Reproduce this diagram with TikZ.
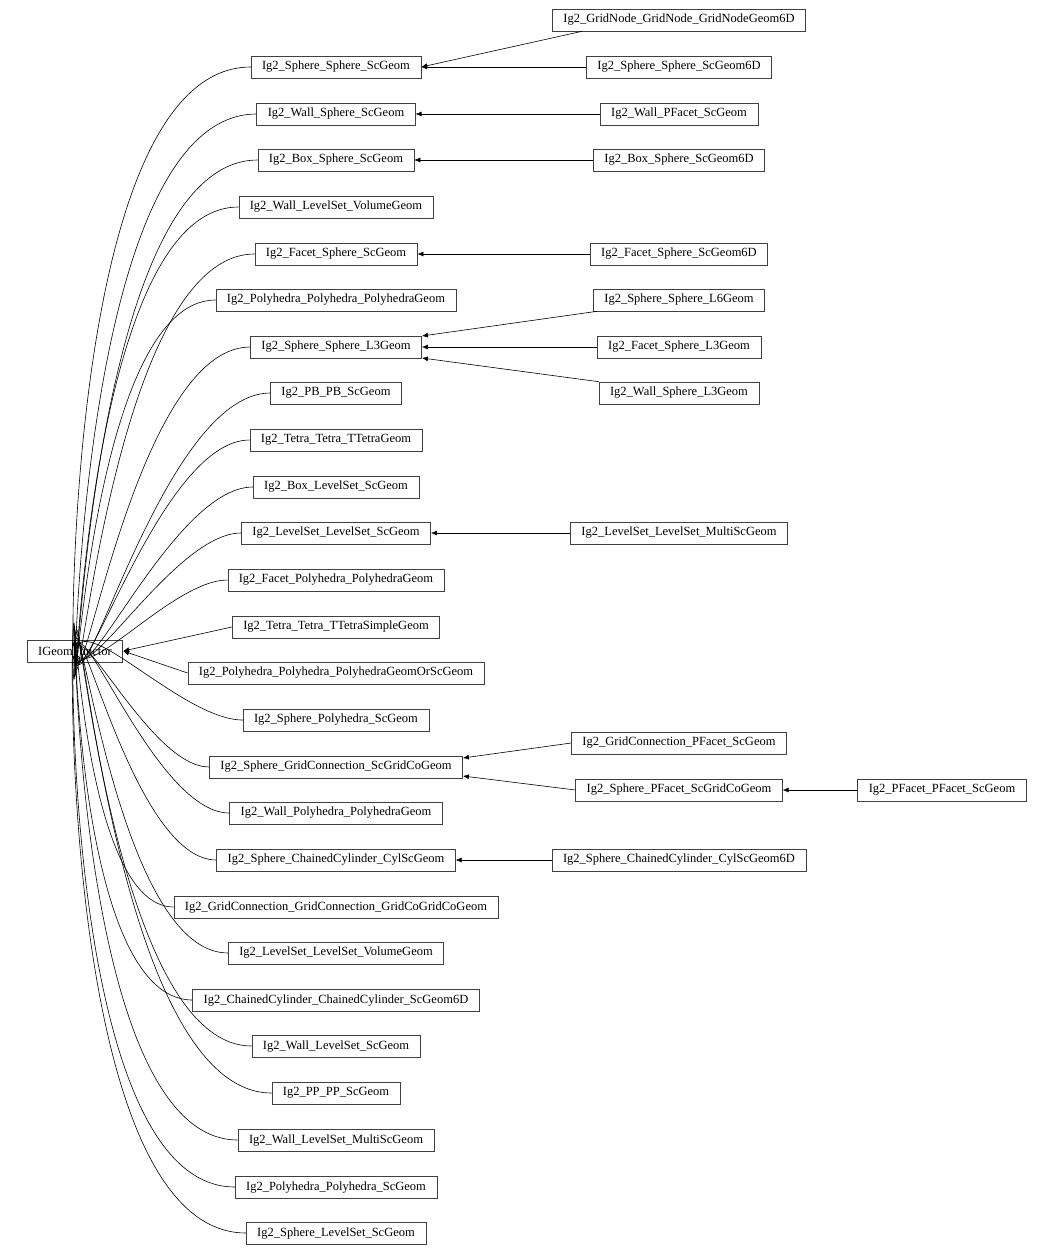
\documentclass[tikz,border=0pt]{standalone}
\usepackage{fontspec}
\setmainfont{Liberation Serif}
\usetikzlibrary{arrows.meta,positioning}
\tikzset{every picture/.style={line width=0.6pt}}
\tikzset{
  cls/.style={draw=black!75, fill=white, font=\fontsize{12.5}{14}\selectfont, minimum height=22pt, inner xsep=11pt, inner ysep=0pt},
  arr/.style={-{Latex[length=6pt,width=5pt]}, draw=black}
}
\begin{document}
\begin{tikzpicture}[x=1pt,y=1pt,yscale=-1]
\useasboundingbox (0,0) rectangle (1052,1256);

% base class
\node[cls] (base) at (75,651) {IGeomFunctor};

% derived classes, middle column
\foreach \i/\y/\txt in {
  1/67/Ig2\_Sphere\_Sphere\_ScGeom,
  2/114/Ig2\_Wall\_Sphere\_ScGeom,
  3/160/Ig2\_Box\_Sphere\_ScGeom,
  4/207/Ig2\_Wall\_LevelSet\_VolumeGeom,
  5/254/Ig2\_Facet\_Sphere\_ScGeom,
  6/300/Ig2\_Polyhedra\_Polyhedra\_PolyhedraGeom,
  7/347/Ig2\_Sphere\_Sphere\_L3Geom,
  8/393/Ig2\_PB\_PB\_ScGeom,
  9/440/Ig2\_Tetra\_Tetra\_TTetraGeom,
  10/487/Ig2\_Box\_LevelSet\_ScGeom,
  11/533/Ig2\_LevelSet\_LevelSet\_ScGeom,
  12/580/Ig2\_Facet\_Polyhedra\_PolyhedraGeom,
  13/627/Ig2\_Tetra\_Tetra\_TTetraSimpleGeom,
  14/673/Ig2\_Polyhedra\_Polyhedra\_PolyhedraGeomOrScGeom,
  15/720/Ig2\_Sphere\_Polyhedra\_ScGeom,
  16/767/Ig2\_Sphere\_GridConnection\_ScGridCoGeom,
  17/813/Ig2\_Wall\_Polyhedra\_PolyhedraGeom,
  18/860/Ig2\_Sphere\_ChainedCylinder\_CylScGeom,
  19/907/Ig2\_GridConnection\_GridConnection\_GridCoGridCoGeom,
  20/953/Ig2\_LevelSet\_LevelSet\_VolumeGeom,
  21/1000/Ig2\_ChainedCylinder\_ChainedCylinder\_ScGeom6D,
  22/1046/Ig2\_Wall\_LevelSet\_ScGeom,
  23/1093/Ig2\_PP\_PP\_ScGeom,
  24/1140/Ig2\_Wall\_LevelSet\_MultiScGeom,
  25/1187/Ig2\_Polyhedra\_Polyhedra\_ScGeom,
  26/1233/Ig2\_Sphere\_LevelSet\_ScGeom}
  \node[cls] (m\i) at (336,\y) {\txt};

% derived classes, right columns
\node[cls] (r1) at (679,20) {Ig2\_GridNode\_GridNode\_GridNodeGeom6D};
\node[cls] (r2) at (679,67) {Ig2\_Sphere\_Sphere\_ScGeom6D};
\node[cls] (r3) at (679,114) {Ig2\_Wall\_PFacet\_ScGeom};
\node[cls] (r4) at (679,160) {Ig2\_Box\_Sphere\_ScGeom6D};
\node[cls] (r5) at (679,254) {Ig2\_Facet\_Sphere\_ScGeom6D};
\node[cls] (r6) at (679,300) {Ig2\_Sphere\_Sphere\_L6Geom};
\node[cls] (r7) at (679,347) {Ig2\_Facet\_Sphere\_L3Geom};
\node[cls] (r8) at (679,393) {Ig2\_Wall\_Sphere\_L3Geom};
\node[cls] (r9) at (679,533) {Ig2\_LevelSet\_LevelSet\_MultiScGeom};
\node[cls] (r10) at (679,743) {Ig2\_GridConnection\_PFacet\_ScGeom};
\node[cls] (r11) at (679,790) {Ig2\_Sphere\_PFacet\_ScGridCoGeom};
\node[cls] (r12) at (679,860) {Ig2\_Sphere\_ChainedCylinder\_CylScGeom6D};
\node[cls] (f1) at (942,790) {Ig2\_PFacet\_PFacet\_ScGeom};

% inheritance to base
\foreach \i in {1,...,12}
  \draw[arr] (m\i.west) to[out=180,in=90,looseness=0.9] (base.north);
\foreach \i in {13,14}
  \draw[arr] (m\i.west) -- (base.east);
\foreach \i in {15,...,26}
  \draw[arr] (m\i.west) to[out=180,in=-90,looseness=0.9] (base.south);

% inheritance between derived classes
\draw[arr] (r1.south west) ++(30,0) -- (m1.east);
\draw[arr] (r2) -- (m1);
\draw[arr] (r3) -- (m2);
\draw[arr] (r4) -- (m3);
\draw[arr] (r5) -- (m5);
\draw[arr] (r6.south west) ++(4,0) -- ([yshift=-11pt]m7.east);
\draw[arr] (r7) -- (m7);
\draw[arr] (r8.north west) -- ([yshift=11pt]m7.east);
\draw[arr] (r9) -- (m11);
\draw[arr] (r10.west) -- ([yshift=-9pt]m16.east);
\draw[arr] (r11.west) -- ([yshift=9pt]m16.east);
\draw[arr] (r12) -- (m18);
\draw[arr] (f1) -- (r11);
\end{tikzpicture}
\end{document}
